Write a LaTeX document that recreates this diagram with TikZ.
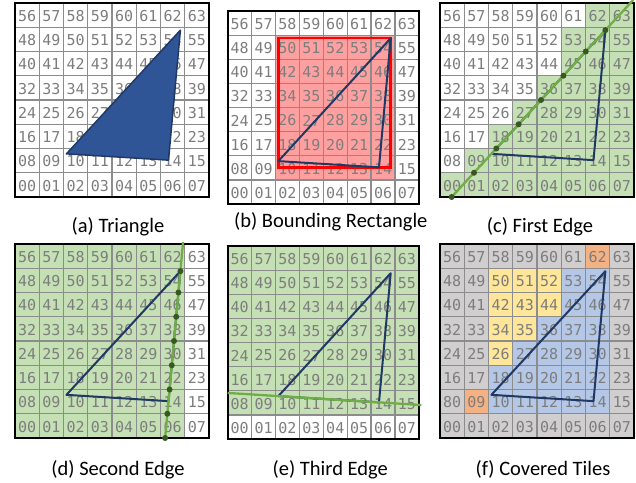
\documentclass[tikz,border=0pt]{standalone}
\usepackage{fontspec}
\setmainfont{Carlito}
\newfontfamily\tilefont{DejaVu Sans Mono}
\usepackage{xcolor}
\usepackage{tikz}
\usetikzlibrary{positioning,calc}

\definecolor{gridgray}{RGB}{140,140,140}
\definecolor{numgray}{RGB}{125,125,125}
\definecolor{trifill}{RGB}{47,85,151}
\definecolor{triline}{RGB}{32,56,100}
\definecolor{edgegreen}{RGB}{112,173,71}
\definecolor{dotgreen}{RGB}{56,87,35}
\definecolor{tilegreen}{RGB}{197,224,180}
\definecolor{boxred}{RGB}{255,0,0}
\definecolor{boxpink}{RGB}{255,160,160}
\definecolor{tilegray}{RGB}{208,206,206}
\definecolor{tileyellow}{RGB}{255,230,153}
\definecolor{tileblue}{RGB}{180,199,231}
\definecolor{tileorange}{RGB}{244,177,131}

% triangle corners, in tiles
\def\ax{2.12}\def\ay{1.78}
\def\bx{6.82}\def\by{6.88}
\def\cx{6.33}\def\cy{1.52}

% 8x8 numbered tiles; #1 = tile whose digits come out swapped
\newcommand{\tilegrid}[2][-1]{%
  \draw[tileline] (0,0) grid (8,8);
  \foreach \row in {0,...,7}{
    \foreach \col in {0,...,7}{
      \pgfmathtruncatemacro{\n}{8*\row+\col}
      \pgfmathtruncatemacro{\hi}{\n/10}
      \pgfmathtruncatemacro{\lo}{\n-10*\hi}
      \ifnum\n=#1\relax\edef\lbl{\lo\hi}\else\edef\lbl{\hi\lo}\fi
      \node[tilenum] (#2-\n) at (\col+0.5,\row+0.5) {\lbl};
    }
  }
  \draw[frame] (0,0) rectangle (8,8);
  \coordinate (#2-A) at (\ax,\ay);
  \coordinate (#2-B) at (\bx,\by);
  \coordinate (#2-C) at (\cx,\cy);
  \coordinate (#2-base) at (4,0);
}

\begin{document}
\begin{tikzpicture}[
    tileline/.style={draw=gridgray, line width=1.3pt, step=1},
    frame/.style={draw=black, line width=2pt},
    tilenum/.style={
        inner sep=0pt,
        text=numgray,
        yshift=-0.8pt,
        font=\tilefont\fontsize{15}{15}\selectfont
    },
    trishape/.style={fill=trifill, draw=triline, line width=1.5pt, line join=round},
    triedge/.style={draw=triline, line width=2pt, line join=round},
    edgeline/.style={draw=edgegreen, line width=2.3pt},
    edgedot/.style={fill=dotgreen},
    bbox/.style={draw=boxred, line width=2.6pt},
    caption/.style={font=\fontsize{20.5}{24}\selectfont, inner sep=0pt}
]
\useasboundingbox (0,0) rectangle (636pt,-482pt);

% (a)
\begin{scope}[shift={(15pt,-197pt)}, x=24.25pt, y=24.25pt]
  \tilegrid{a}
  \filldraw[trishape] (a-A) -- (a-B) -- (a-C) -- cycle;
\end{scope}

% (b)
\begin{scope}[shift={(227.7pt,-204pt)}, x=23.9pt, y=24.1pt]
  \fill[boxpink] (2,1) rectangle (7,7);
  \tilegrid{b}
  \draw[bbox] (b-A |- b-C) rectangle (b-B);
  \draw[triedge] (b-A) -- (b-B) -- (b-C) -- cycle;
\end{scope}

% (c)
\begin{scope}[shift={(440pt,-197pt)}, x=24.25pt, y=24.25pt]
  \foreach \s [count=\row from 0] in {0,1,2,3,4,5,5,6}
    \fill[tilegreen] (\s,\row) rectangle (8,\row+1);
  \tilegrid{c}
  \draw[triedge] (c-A) -- (c-B) -- (c-C) -- cycle;
  \draw[edgeline] ($(c-A)!{(0-\ay)/(\by-\ay)}!(c-B)$) -- ($(c-A)!1.245!(c-B)$);
  \foreach \k in {0,...,6}
    \fill[edgedot] ($(c-A)!{(\k-\ay)/(\by-\ay)}!(c-B)$) circle (3pt);
  \fill[edgedot] (c-B) circle (3pt);
\end{scope}

% (d)
\begin{scope}[shift={(15pt,-438pt)}, x=24.25pt, y=24.25pt]
  \fill[tilegreen] (0,0) rectangle (7,8);
  \tilegrid{d}
  \draw[triedge] (d-A) -- (d-B) -- (d-C) -- cycle;
  \draw[edgeline] ($(d-C)!{(0-\cy)/(\by-\cy)}!(d-B)$) -- ($(d-C)!{(8.08-\cy)/(\by-\cy)}!(d-B)$);
  \foreach \k in {0,...,6}
    \fill[edgedot] ($(d-C)!{(\k-\cy)/(\by-\cy)}!(d-B)$) circle (3pt);
  \fill[edgedot] (d-B) circle (3pt);
\end{scope}

% (e)
\begin{scope}[shift={(227.7pt,-439pt)}, x=23.9pt, y=24.1pt]
  \fill[tilegreen] (0,1) rectangle (8,8);
  \tilegrid{e}
  \draw[triedge] (e-A) -- (e-B) -- (e-C) -- cycle;
  \draw[edgeline] ($(e-A)!{(0-\ax)/(\cx-\ax)}!(e-C)$) -- ($(e-A)!{(8.1-\ax)/(\cx-\ax)}!(e-C)$);
\end{scope}

% (f)
\begin{scope}[shift={(440pt,-438pt)}, x=24.25pt, y=24.25pt]
  \fill[tilegray] (0,0) rectangle (8,8);
  \foreach \col/\row in {1/1,6/7}
    \fill[tileorange] (\col,\row) rectangle ++(1,1);
  \foreach \col/\row in {2/6,3/6,4/6,2/5,3/5,4/5,2/4,3/4,2/3}
    \fill[tileyellow] (\col,\row) rectangle ++(1,1);
  \foreach \col/\row in {5/6,6/6,5/5,6/5,4/4,5/4,6/4,3/3,4/3,5/3,6/3,2/2,3/2,4/2,5/2,6/2,2/1,3/1,4/1,5/1,6/1}
    \fill[tileblue] (\col,\row) rectangle ++(1,1);
  \tilegrid[8]{f}
  \draw[triedge] (f-A) -- (f-B) -- (f-C) -- cycle;
\end{scope}

% captions
\node[caption, below=35pt of a-base, anchor=base, xshift=6pt] (a-cap) {(a) Triangle};
\node[caption, below=23.7pt of b-base, anchor=base, xshift=7.5pt] (b-cap) {(b) Bounding Rectangle};
\node[caption, below=35pt of c-base, anchor=base, xshift=3pt] (c-cap) {(c) First Edge};
\node[caption, below=37.7pt of d-base, anchor=base, xshift=6pt] (d-cap) {(d) Second Edge};
\node[caption, below=36.7pt of e-base, anchor=base, xshift=7pt] (e-cap) {(e) Third Edge};
\node[caption, below=37.7pt of f-base, anchor=base, xshift=6pt] (f-cap) {(f) Covered Tiles};
\end{tikzpicture}
\end{document}
